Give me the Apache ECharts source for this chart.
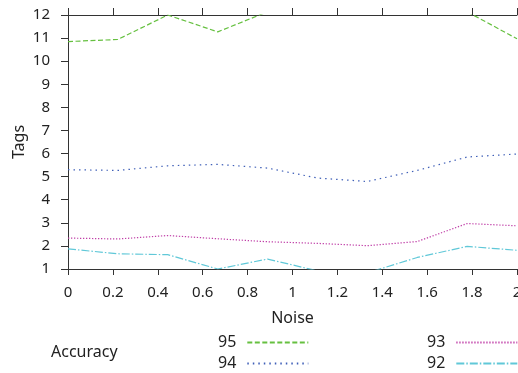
<!DOCTYPE html>
<html>
<head>
<meta charset="utf-8">
<script src="https://cdn.jsdelivr.net/npm/echarts@6/dist/echarts.min.js"></script>
<style>
  html, body { margin: 0; padding: 0; background: #fff; }
  #chart { width: 518px; height: 373px; }
</style>
</head>
<body>
<div id="chart"></div>
<script>
// noise levels (x)
const noise = [0, 0.222, 0.444, 0.667, 0.889, 1.111, 1.333, 1.556, 1.778, 2]
// tags per accuracy level
const acc95 = [10.85, 10.94, 12.0, 11.27, 12.14, 12.3, 12.4, 12.3, 12.14, 10.97]
const acc94 = [5.30, 5.27, 5.47, 5.53, 5.37, 4.94, 4.79, 5.27, 5.85, 5.98]
const acc93 = [2.34, 2.30, 2.45, 2.31, 2.18, 2.11, 2.01, 2.19, 2.97, 2.87]
const acc92 = [1.87, 1.66, 1.62, 1.0, 1.43, 0.92, 0.83, 1.50, 1.98, 1.81]

const font = 'Noto Sans'
const axisColor = '#333'
const textColor = '#222'

const chart = echarts.init(document.getElementById('chart'))

const pairs = arr => noise.map((x, i) => [x, arr[i]])

const mkSeries = (name, arr, color, dash) => ({
  name,
  type: 'line',
  data: pairs(arr),
  symbol: 'none',
  showSymbol: false,
  clip: true,
  lineStyle: { color, width: 1.2, type: dash },
  itemStyle: { color }
})

// legend column: label on the left, line sample on the right
const mkLegend = (names, left) => ({
  data: names,
  orient: 'vertical',
  left,
  top: 333.5,
  height: 60,
  padding: 0,
  align: 'right',
  itemWidth: 61,
  itemHeight: 6,
  itemGap: 3,
  itemStyle: { opacity: 0 },
  textStyle: { fontFamily: font, fontSize: 16, lineHeight: 18, color: textColor, padding: [0, 6, 0, 0] }
})

const option = {
  animation: false,
  textStyle: { fontFamily: font },
  title: {
    text: 'Accuracy',
    left: 51,
    top: 344,
    padding: 0,
    textStyle: { fontFamily: font, fontSize: 16, fontWeight: 'normal', color: textColor }
  },
  legend: [mkLegend(['95', '94'], 218), mkLegend(['93', '92'], 427)],
  grid: { left: 68, right: 1, top: 15, bottom: 104, outerBoundsMode: 'none' },
  xAxis: [
    {
      type: 'value',
      min: 0,
      max: 2,
      interval: 0.2,
      name: 'Noise',
      nameLocation: 'middle',
      nameGap: 41,
      nameTextStyle: { fontFamily: font, fontSize: 16, color: textColor },
      axisLine: { lineStyle: { color: axisColor, width: 1 } },
      axisTick: { length: 6, lineStyle: { color: axisColor } },
      axisLabel: { fontFamily: font, fontSize: 15, color: textColor, margin: 16 },
      splitLine: { show: false }
    },
    {
      type: 'value',
      position: 'top',
      min: 0,
      max: 2,
      interval: 0.2,
      axisLine: { lineStyle: { color: axisColor, width: 1 } },
      axisTick: { length: 7, lineStyle: { color: axisColor } },
      axisLabel: { show: false },
      splitLine: { show: false }
    }
  ],
  yAxis: [
    {
      type: 'value',
      min: 1,
      max: 12,
      interval: 1,
      name: 'Tags',
      nameLocation: 'middle',
      nameGap: 41,
      nameMoveOverlap: false,
      nameTextStyle: { fontFamily: font, fontSize: 16, color: textColor },
      axisLine: { show: true, lineStyle: { color: axisColor, width: 1 } },
      axisTick: { show: true, length: 7, lineStyle: { color: axisColor } },
      axisLabel: { fontFamily: font, fontSize: 15, color: textColor, margin: 18 },
      splitLine: { show: false }
    },
    {
      type: 'value',
      position: 'right',
      min: 1,
      max: 12,
      interval: 1,
      axisLine: { show: true, lineStyle: { color: axisColor, width: 1 } },
      axisTick: { show: true, inside: true, length: 2, lineStyle: { color: axisColor } },
      axisLabel: { show: false },
      splitLine: { show: false }
    }
  ],
  series: [
    mkSeries('95', acc95, '#66c040', [5, 2.5]),
    mkSeries('94', acc94, '#4060b8', [1.5, 4]),
    mkSeries('93', acc93, '#c040a8', [1.3, 1.7]),
    mkSeries('92', acc92, '#60c8d8', [8, 2, 1.5, 2])
  ]
}

chart.setOption(option)
</script>
</body>
</html>
